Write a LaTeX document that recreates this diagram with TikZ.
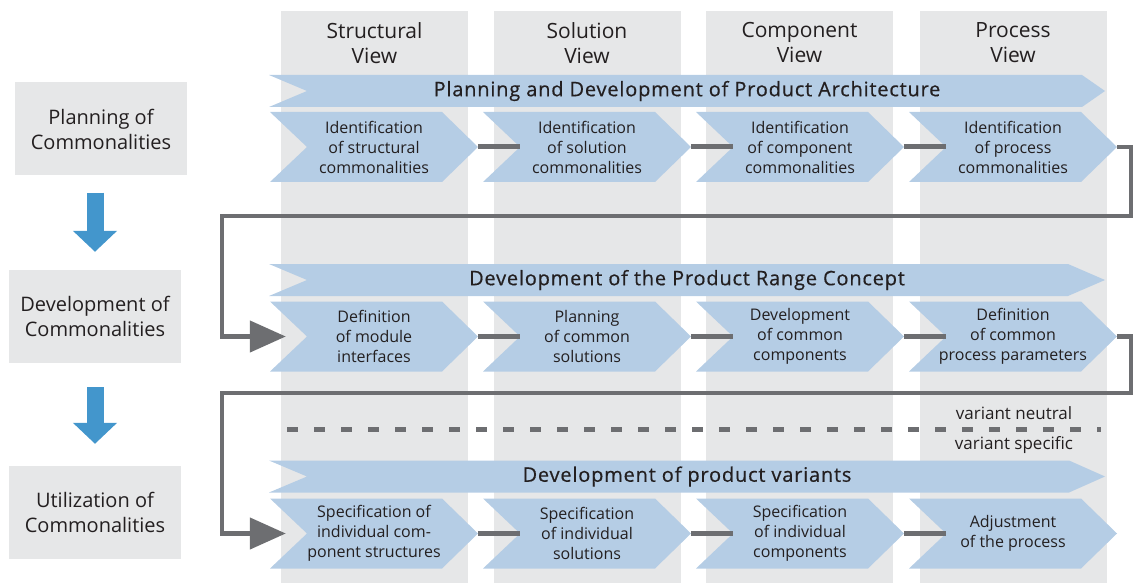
\documentclass[tikz,border=0pt]{standalone}
\usepackage{fontspec}
\setmainfont{Open Sans}
\newfontfamily\bannerfont{Open Sans}[LetterSpace=4,FakeBold=0.5]
\usetikzlibrary{arrows.meta,calc}
\definecolor{colgray}{HTML}{E6E7E8}
\definecolor{chevblue}{HTML}{B5CDE5}
\definecolor{linegray}{HTML}{6D6E71}
\definecolor{arrblue}{HTML}{4396CC}
\definecolor{txt}{HTML}{231F20}
\begin{document}
\begin{tikzpicture}[x=1pt,y=-1pt,
  colbox/.style={fill=colgray, minimum width=187pt, minimum height=572pt, inner sep=0pt, anchor=north},
  hdr/.style={align=center, text=txt, font=\fontsize{21}{25}\selectfont},
  lbox/.style={fill=colgray, minimum width=172pt, minimum height=93pt, inner sep=0pt, align=center, text=txt, font=\fontsize{20}{25}\selectfont},
  chev/.style={minimum width=208pt, minimum height=70pt, inner sep=0pt, align=center, text=txt,
    font=\fontsize{16}{20}\selectfont,
    path picture={\fill[chevblue] (path picture bounding box.north west)
      -- ($(path picture bounding box.north east)+(-36pt,0pt)$)
      -- (path picture bounding box.east)
      -- ($(path picture bounding box.south east)+(-36pt,0pt)$)
      -- (path picture bounding box.south west)
      -- ($(path picture bounding box.west)+(37pt,0pt)$) -- cycle;}},
  banner/.style={minimum width=836pt, minimum height=32pt, inner sep=0pt, text=txt,
    font=\bannerfont\fontsize{20}{24}\selectfont,
    path picture={\fill[chevblue] (path picture bounding box.north west)
      -- ($(path picture bounding box.north east)+(-#1,0pt)$)
      -- (path picture bounding box.east)
      -- ($(path picture bounding box.south east)+(-#1,0pt)$)
      -- (path picture bounding box.south west)
      -- ($(path picture bounding box.west)+(38pt,0pt)$) -- cycle;}},
  conn/.style={line width=5pt, linegray},
  ret/.style={line width=4.5pt, linegray, line join=miter, -{Triangle[length=36pt,width=31pt]}},
  bigarrow/.style={line width=17pt, arrblue, -{Triangle[length=21pt,width=43pt]}},
  dashline/.style={line width=5pt, linegray, dash pattern=on 11pt off 16pt},
  vlabel/.style={text=txt, font=\fontsize{17}{20}\selectfont}
]
\useasboundingbox (0,0) rectangle (1133,583);

% columns
\node[colbox] (k1) at (374.5,11) {};
\node[colbox] (k2) at (587,11) {};
\node[colbox] (k3) at (799.5,11) {};
\node[colbox] (k4) at (1013,11) {};
\node[hdr] (h1) at (374.5,43) {Structural\\View};
\node[hdr] (h2) at (587,43) {Solution\\View};
\node[hdr] (h3) at (799.5,43) {Component\\View};
\node[hdr] (h4) at (1013,43) {Process\\View};

% left boxes
\node[lbox] (L1) at (101,129) {Planning of\\Commonalities};
\node[lbox] (L2) at (95,316.5) {Development of\\Commonalities};
\node[lbox] (L3) at (95,512.5) {Utilization of\\Commonalities};
\draw[bigarrow] ($(L1.south -| L2.south)+(0,17)$) -- ($(L2.north)+(0,-18)$);
\draw[bigarrow] ($(L2.south)+(0,24)$) -- ($(L3.north)+(0,-22)$);

% banners
\node[banner=23pt] (b1) at (687,91) {Planning and Development of Product Architecture};
\node[banner=37pt] (b2) at (687,280) {Development of the Product Range Concept};
\node[banner=36pt] (b3) at (687,476.5) {Development of product variants};

% row 1
\node[chev] (c11) at (374,147) {Identification\\of structural\\commonalities};
\node[chev] (c12) at (587,147) {Identification\\of solution\\commonalities};
\node[chev] (c13) at (800,147) {Identification\\of component\\commonalities};
\node[chev] (c14) at (1013,147) {Identification\\of process\\commonalities};
% row 2
\node[chev] (c21) at (374,336.5) {Definition\\of module\\interfaces};
\node[chev] (c22) at (587,336.5) {Planning\\of common\\solutions};
\node[chev] (c23) at (800,336.5) {Development\\of common\\components};
\node[chev] (c24) at (1013,336.5) {Definition\\of common\\process parameters};
% row 3
\node[chev] (c31) at (374,533.5) {Specification of\\individual com-\\ponent structures};
\node[chev] (c32) at (587,533.5) {Specification\\of individual\\solutions};
\node[chev] (c33) at (800,533.5) {Specification\\of individual\\components};
\node[chev] (c34) at (1013,533.5) {Adjustment\\of the process};

% connectors within rows
\foreach \r in {1,2,3}{
  \draw[conn] (c\r1.east) -- ($(c\r2.west)+(37,0)$);
  \draw[conn] (c\r2.east) -- ($(c\r3.west)+(37,0)$);
  \draw[conn] (c\r3.east) -- ($(c\r4.west)+(37,0)$);
}

% return connectors
\coordinate (r1) at (1131,216);
\coordinate (r1l) at (222,216);
\coordinate (r2) at (1131,393);
\coordinate (r2l) at (222,393);
\draw[ret] (c14.east) -| (r1) -- (r1l) |- ($(c21.west)+(16,0)$);
\draw[ret] (c24.east) -| (r2) -- (r2l) |- ($(c31.west)+(16,0)$);

% variant line
\coordinate (d1) at (287,429);
\coordinate (d2) at (1101,429);
\draw[dashline] (d1) -- (d2);
\node[vlabel] (vn) at (1014,413) {variant neutral};
\node[vlabel] (vs) at (1014,445) {variant specific};
\end{tikzpicture}
\end{document}
